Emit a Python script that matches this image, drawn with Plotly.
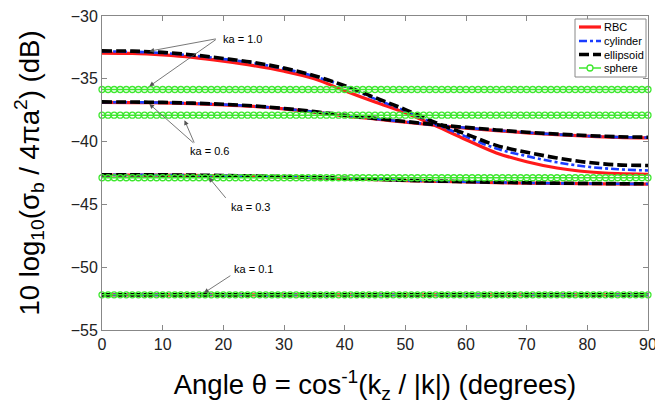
import plotly.graph_objects as go

# ---------------- data ----------------
angles = [0, 5, 10, 15, 20, 25, 30, 35, 40, 45, 50, 55, 60, 65, 70, 75, 80, 85, 90]

rbc_10 = [-32.95, -32.98, -33.1, -33.3, -33.6, -33.95, -34.4, -35.0, -35.95, -36.85, -37.7, -38.75, -39.85, -40.9, -41.6, -42.1, -42.4, -42.55, -42.6]
cyl_10 = [-32.82, -32.85, -32.95, -33.15, -33.42, -33.75, -34.2, -34.8, -35.6, -36.6, -37.55, -38.6, -39.6, -40.55, -41.15, -41.65, -42.0, -42.2, -42.3]
ell_10 = [-32.78, -32.8, -32.9, -33.1, -33.38, -33.7, -34.15, -34.75, -35.55, -36.5, -37.45, -38.5, -39.4, -40.3, -40.85, -41.3, -41.65, -41.85, -41.9]

rbc_06 = [-36.88, -36.89, -36.92, -36.98, -37.07, -37.2, -37.4, -37.65, -37.95, -38.2, -38.45, -38.7, -38.92, -39.12, -39.3, -39.45, -39.57, -39.66, -39.7]
cyl_06 = [-36.86, -36.87, -36.9, -36.96, -37.05, -37.18, -37.38, -37.63, -37.93, -38.18, -38.43, -38.68, -38.9, -39.1, -39.28, -39.43, -39.55, -39.64, -39.68]
ell_06 = [-36.84, -36.85, -36.88, -36.94, -37.03, -37.16, -37.36, -37.61, -37.9, -38.15, -38.4, -38.65, -38.87, -39.07, -39.25, -39.4, -39.52, -39.61, -39.65]

rbc_03 = [-42.66, -42.66, -42.67, -42.69, -42.72, -42.76, -42.81, -42.87, -42.95, -43.02, -43.1, -43.16, -43.21, -43.26, -43.3, -43.33, -43.35, -43.37, -43.38]
cyl_03 = [-42.65, -42.65, -42.66, -42.68, -42.71, -42.75, -42.8, -42.86, -42.94, -43.01, -43.09, -43.15, -43.2, -43.25, -43.29, -43.32, -43.34, -43.36, -43.37]
ell_03 = [-42.64, -42.64, -42.65, -42.67, -42.7, -42.74, -42.79, -42.85, -42.93, -43.0, -43.08, -43.14, -43.19, -43.24, -43.28, -43.31, -43.33, -43.35, -43.36]

rbc_01 = [-52.2] * len(angles)
cyl_01 = [-52.2] * len(angles)
ell_01 = [-52.2] * len(angles)

sphere_angles = list(range(0, 91))
sphere_levels = {"1.0": -35.85, "0.6": -37.9, "0.3": -42.88, "0.1": -52.2}

x_ticks = [0, 10, 20, 30, 40, 50, 60, 70, 80, 90]
y_ticks = [-55, -50, -45, -40, -35, -30]

legend_names = ["RBC", "cylinder", "ellipsoid", "sphere"]

# ---------------- styles ----------------
FONT = "Liberation Sans, Arial, Helvetica"
GREEN = "#3fe830"
styles = {
    "RBC": dict(color="#ff1a1a", width=3.2),
    "cylinder": dict(color="#1a3cff", width=2.6, dash="8px,3px,3px,3px"),
    "ellipsoid": dict(color="black", width=3.6, dash="10px,4px"),
    "sphere": dict(color=GREEN, width=1.5),
}

fig = go.Figure()

models = [
    ("RBC", [rbc_10, rbc_06, rbc_03, rbc_01]),
    ("cylinder", [cyl_10, cyl_06, cyl_03, cyl_01]),
    ("ellipsoid", [ell_10, ell_06, ell_03, ell_01]),
]
for name, series in models:
    for ys in series:
        fig.add_trace(go.Scatter(
            x=angles, y=ys, mode="lines", name=name, legendgroup=name,
            showlegend=False, line=dict(shape="spline", **styles[name]),
        ))

for ka, lvl in sphere_levels.items():
    fig.add_trace(go.Scatter(
        x=sphere_angles, y=[lvl] * len(sphere_angles), mode="lines+markers",
        name="sphere", legendgroup="sphere", showlegend=False,
        line=styles["sphere"],
        marker=dict(symbol="circle-open", size=6, color=GREEN, line=dict(width=1.3)),
        cliponaxis=False,
    ))

# annotation labels
labels = [
    ("ka = 1.0", 23.2, -31.83),
    ("ka = 0.6", 17.8, -40.75),
    ("ka = 0.3", 24.4, -45.2),
    ("ka = 0.1", 24.9, -50.15),
]
for t, x, y in labels:
    fig.add_annotation(x=x, y=y, text=t, showarrow=False,
                       font=dict(family=FONT, size=11, color="black"))

# arrows: (tip x, tip y, tail x, tail y)
arrows = [
    (7.8, -32.8, 19.0, -31.8),
    (7.8, -35.6, 19.0, -31.8),
    (7.8, -37.0, 15.3, -40.2),
    (13.6, -38.3, 15.3, -40.2),
    (17.6, -42.85, 20.6, -44.6),
    (16.8, -52.05, 21.4, -50.6),
]
for tx, ty, sx, sy in arrows:
    fig.add_annotation(x=tx, y=ty, ax=sx, ay=sy, axref="x", ayref="y", xref="x", yref="y",
                       text="", showarrow=True, arrowhead=2, arrowsize=1.2,
                       arrowwidth=0.8, arrowcolor="#555555")

# ---------------- legend (drawn in paper px) ----------------
W, H = 655, 404
ML, MR, MT, MB = 102, 7, 16, 74
PW, PH = W - ML - MR, H - MT - MB

def px_x(p):
    return (p - ML) / PW

def px_y(p):
    return 1 - (p - MT) / PH

fig.add_shape(type="rect", xref="paper", yref="paper",
              x0=px_x(575), x1=px_x(646), y0=px_y(19), y1=px_y(77),
              fillcolor="white", line=dict(color="#888888", width=1), layer="above")
row_y = [27, 41, 54.5, 68]
for name, ry in zip(legend_names, row_y):
    st = styles[name]
    fig.add_shape(type="line", xref="paper", yref="paper",
                  x0=px_x(579), x1=px_x(601), y0=px_y(ry), y1=px_y(ry),
                  line=dict(color=st["color"], width=st["width"], dash=st.get("dash", "solid")),
                  layer="above")
    if name == "sphere":
        fig.add_shape(type="circle", xref="paper", yref="paper",
                      x0=px_x(587), x1=px_x(593), y0=px_y(ry - 3), y1=px_y(ry + 3),
                      line=dict(color=GREEN, width=1.3), fillcolor="white", layer="above")
    fig.add_annotation(xref="paper", yref="paper", x=px_x(602), y=px_y(ry),
                       xanchor="left", yanchor="middle", text=name, showarrow=False,
                       font=dict(family=FONT, size=11, color="black"))

axis_common = dict(
    showline=True, linecolor="#888888", linewidth=1, mirror="ticks",
    ticks="inside", ticklen=5, tickcolor="#888888", showgrid=False, zeroline=False,
    tickfont=dict(family=FONT, size=16, color="#222222"),
    automargin=False, ticklabeloverflow="allow",
)

fig.update_xaxes(range=[0, 90], tickvals=x_ticks,
                 title=dict(text="Angle θ = cos<sup>-1</sup>(k<sub>z</sub> / |k|) (degrees)",
                            font=dict(family=FONT, size=27.5, color="black"),
                            standoff=28),
                 **axis_common)
fig.update_yaxes(range=[-55, -30], tickvals=y_ticks,
                 title=dict(text="10 log<sub>10</sub>(σ<sub>b</sub> / 4πa<sup>2</sup>) (dB)",
                            font=dict(family=FONT, size=27.5, color="black"),
                            standoff=23),
                 **axis_common)

fig.update_layout(
    width=W, height=H,
    margin=dict(l=ML, r=MR, t=MT, b=MB),
    plot_bgcolor="white", paper_bgcolor="white",
    showlegend=False,
)

fig.write_html("out.html", config={"displayModeBar": False},
               post_script="document.body.style.margin='0';document.body.style.overflow='hidden';")
